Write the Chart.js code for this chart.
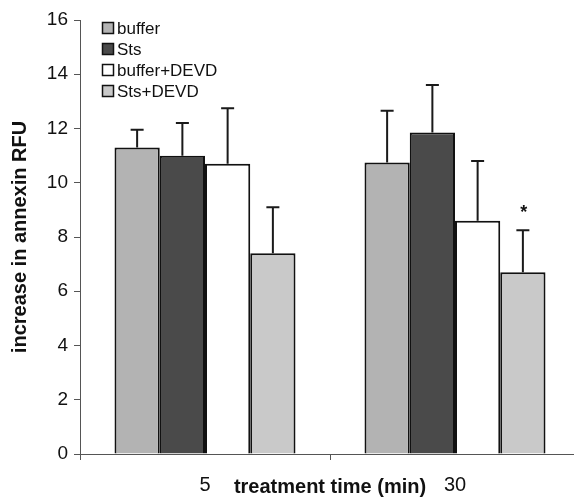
<!DOCTYPE html>
<html>
<head>
<meta charset="utf-8">
<script src="https://cdn.jsdelivr.net/npm/chart.js@4.4.1/dist/chart.umd.min.js"></script>
<style>
  html, body { margin: 0; padding: 0; background: #fff; overflow: hidden; }
  #wrap { width: 590px; height: 500px; }
</style>
</head>
<body>
<div id="wrap"><canvas id="myBarChart"></canvas></div>
<script>
const times = ['5', '30'];
const seriesNames = ['buffer', 'Sts', 'buffer+DEVD', 'Sts+DEVD'];
const seriesColors = ['#b3b3b3', '#4a4a4a', '#ffffff', '#c9c9c9'];
const buffer = [11.3, 10.75];
const sts = [11.0, 11.85];
const bufferDevd = [10.7, 8.6];
const stsDevd = [7.4, 6.7];
// standard deviations, upper whisker only
const bufferErr = [0.65, 1.9];
const stsErr = [1.2, 1.75];
const bufferDevdErr = [2.05, 2.2];
const stsDevdErr = [1.7, 1.55];
const yTicks = [0, 2, 4, 6, 8, 10, 12, 14, 16];

const values = [buffer, sts, bufferDevd, stsDevd];
const errors = [bufferErr, stsErr, bufferDevdErr, stsDevdErr];

const font = '"Liberation Sans", Arial, sans-serif';

const extras = {
    id: 'extras',
    afterDatasetsDraw(chart) {
        const ctx = chart.ctx;
        const y = chart.scales.y;
        // error bars
        ctx.save();
        ctx.strokeStyle = '#1a1a1a';
        ctx.lineWidth = 2;
        chart.data.datasets.forEach((ds, i) => {
            const meta = chart.getDatasetMeta(i);
            meta.data.forEach((bar, j) => {
                const top = y.getPixelForValue(ds.data[j] + errors[i][j]);
                ctx.beginPath();
                ctx.moveTo(bar.x, bar.y);
                ctx.lineTo(bar.x, top);
                ctx.moveTo(bar.x - 6.5, top);
                ctx.lineTo(bar.x + 6.5, top);
                ctx.stroke();
            });
        });
        // asterisk on Sts+DEVD at 30 min
        const star = chart.getDatasetMeta(3).data[1];
        ctx.fillStyle = '#111';
        ctx.font = 'bold 18px ' + font;
        ctx.textAlign = 'center';
        ctx.textBaseline = 'middle';
        ctx.fillText('*', star.x + 1, y.getPixelForValue(stsDevd[1] + stsDevdErr[1]) - 17);

        // legend
        ctx.font = '17px ' + font;
        ctx.textAlign = 'left';
        ctx.lineWidth = 1.5;
        chart.data.datasets.forEach((ds, i) => {
            const ly = 28 + i * 21;
            ctx.fillStyle = ds.backgroundColor;
            ctx.fillRect(102.5, ly - 5.5, 11, 11);
            ctx.strokeStyle = '#111';
            ctx.strokeRect(102.5, ly - 5.5, 11, 11);
            ctx.fillStyle = '#111';
            ctx.fillText(ds.label, 117, ly + 1);
        });

        // x title, on the tick label line
        ctx.font = 'bold 20px ' + font;
        ctx.textAlign = 'center';
        ctx.fillText('treatment time (min)', 330, 487);
        ctx.restore();
    }
};

const config = {
    type: 'bar',
    data: {
        labels: times,
        datasets: seriesNames.map((name, i) => ({
            label: name,
            data: values[i],
            backgroundColor: seriesColors[i],
            borderColor: '#111',
            borderWidth: 2,
            borderSkipped: 'bottom',
            categoryPercentage: 0.724,
            barPercentage: 1
        }))
    },
    options: {
        responsive: true,
        maintainAspectRatio: false,
        animation: false,
        layout: { padding: { top: 20, right: 10, left: 0, bottom: 0 } },
        plugins: {
            legend: { display: false },
            tooltip: { enabled: false }
        },
        scales: {
            x: {
                grid: { drawOnChartArea: false, tickLength: 6, color: '#555', offset: true },
                border: { color: '#555', width: 1 },
                ticks: { font: { family: font, size: 20 }, color: '#111', padding: 13 },
                afterFit(scale) { scale.height = 46; }
            },
            y: {
                min: 0,
                max: 16,
                afterBuildTicks(scale) { scale.ticks = yTicks.map(v => ({ value: v })); },
                grid: { drawOnChartArea: false, tickLength: 6, color: '#555' },
                border: { color: '#555', width: 1 },
                ticks: { font: { family: font, size: 19 }, color: '#111', padding: 6 },
                title: {
                    display: true,
                    text: 'increase in annexin RFU',
                    font: { family: font, size: 20, weight: 'bold' },
                    color: '#111',
                    padding: { top: 8, bottom: 0 }
                },
                afterFit(scale) { scale.width = 80; }
            }
        }
    },
    plugins: [extras]
};

new Chart(document.querySelector('#myBarChart'), config);
</script>
</body>
</html>
